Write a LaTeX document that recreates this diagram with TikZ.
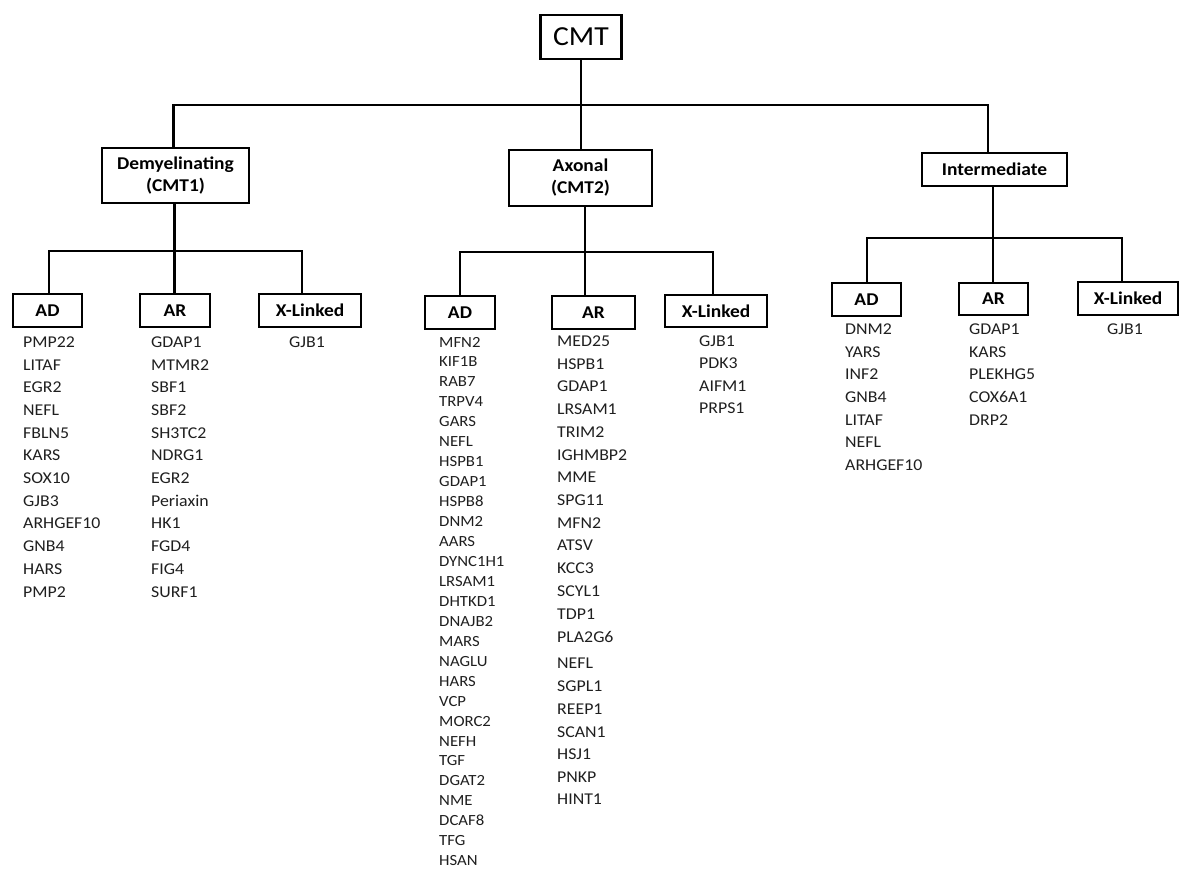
\documentclass[tikz,border=0pt]{standalone}
\usepackage{fontspec}
\setmainfont{Carlito}[FakeStretch=1.08]
\begin{document}
\begin{tikzpicture}[x=1pt,y=-1pt,
  ln/.style={line width=2.2pt},
  box/.style={draw, line width=2.2pt, inner sep=0pt, align=center,
    font=\fontsize{18}{22}\selectfont\bfseries},
  gene/.style={inner sep=0pt, anchor=base west, text=black!88,
    font=\fontsize{16.5}{20}\selectfont},
  sgene/.style={gene, font=\fontsize{15.5}{20}\selectfont}]
\useasboundingbox (0,0) rectangle (1181,870);

% root and the three main types
\node[draw, line width=2.2pt, inner sep=0pt, minimum width=81, minimum height=44,
  font=\fontsize{27.5}{30}\selectfont] (cmt) at (581,37) {CMT};
\node[box, minimum width=147, minimum height=55] (dem) at (175.5,175.5) {Demyelinating\\(CMT1)};
\node[box, minimum width=143, minimum height=56] (axo) at (580.5,178) {Axonal\\(CMT2)};
\node[box, minimum width=145, minimum height=33] (int) at (994.5,169.5) {Intermediate};

% inheritance boxes
\node[box, minimum width=69, minimum height=33] (dad) at (47.5,310.5) {AD};
\node[box, minimum width=70, minimum height=33] (dar) at (175,310.5) {AR};
\node[box, minimum width=102, minimum height=33] (dx) at (310,310.5) {X-Linked};
\node[box, minimum width=70, minimum height=33] (aad) at (460,312.5) {AD};
\node[box, minimum width=83, minimum height=33] (aar) at (593.5,312.5) {AR};
\node[box, minimum width=102, minimum height=32] (ax) at (716,311) {X-Linked};
\node[box, minimum width=69, minimum height=33] (iad) at (866.5,299.5) {AD};
\node[box, minimum width=69, minimum height=32] (iar) at (993.5,299) {AR};
\node[box, minimum width=100, minimum height=33] (ix) at (1128,298.5) {X-Linked};

% junctions
\coordinate (t0) at (581,105);
\coordinate (tL) at (173.5,105);
\coordinate (tR) at (988,105);
\coordinate (dj) at (174.5,251);
\coordinate (dL) at (49,251);
\coordinate (dR) at (302,251);
\coordinate (aj) at (585,252);
\coordinate (aL) at (460,252);
\coordinate (aR) at (713,252);
\coordinate (ij) at (993,238);
\coordinate (iL) at (867,238);
\coordinate (iR) at (1122,238);

% connectors
\draw[ln] (cmt.south) -- (t0);
\draw[ln] (dem.north -| tL) |- (tR) -- (int.north -| tR);
\draw[ln] (t0) -- (axo.north -| t0);

\draw[ln] (dem.south -| dj) -- (dar.north -| dj);
\draw[ln] (dad.north -| dL) |- (dR) -- (dx.north -| dR);

\draw[ln] (axo.south -| aj) -- (aar.north -| aj);
\draw[ln] (aad.north -| aL) |- (aR) -- (ax.north -| aR);

\draw[ln] (int.south -| ij) -- (iar.north -| ij);
\draw[ln] (iad.north -| iL) |- (iR) -- (ix.north -| iR);

% gene lists: demyelinating
\foreach \g [count=\i] in {PMP22,LITAF,EGR2,NEFL,FBLN5,KARS,SOX10,GJB3,ARHGEF10,GNB4,HARS,PMP2}
  \node[gene] (dad-\i) at (23,{347.3+(\i-1)*22.7}) {\g};
\foreach \g [count=\i] in {GDAP1,MTMR2,SBF1,SBF2,SH3TC2,NDRG1,EGR2,Periaxin,HK1,FGD4,FIG4,SURF1}
  \node[gene] (dar-\i) at (151,{347.3+(\i-1)*22.7}) {\g};
\node[gene, anchor=base] (dx-1) at (307,347.3) {GJB1};

% gene lists: axonal
\foreach \g [count=\i] in {MFN2,KIF1B,RAB7,TRPV4,GARS,NEFL,HSPB1,GDAP1,HSPB8,DNM2,AARS,DYNC1H1,LRSAM1,DHTKD1,DNAJB2,MARS,NAGLU,HARS,VCP,MORC2,NEFH,TGF,DGAT2,NME,DCAF8,TFG,HSAN}
  \node[sgene] (aad-\i) at (439,{347+(\i-1)*19.95}) {\g};
\foreach \g/\yy [count=\i] in {MED25/341,HSPB1/364,GDAP1/386.5,LRSAM1/409,TRIM2/432,IGHMBP2/455,MME/477.5,SPG11/500,MFN2/523,ATSV/545.5,KCC3/568,SCYL1/591,TDP1/614,PLA2G6/637,NEFL/663,SGPL1/686,REEP1/709,SCAN1/732,HSJ1/754,PNKP/777,HINT1/799}
  \node[gene] (aar-\i) at (557,{\yy+5.3}) {\g};
\foreach \g [count=\i] in {GJB1,PDK3,AIFM1,PRPS1}
  \node[gene] (ax-\i) at (699,{346.3+(\i-1)*22.4}) {\g};

% gene lists: intermediate
\foreach \g [count=\i] in {DNM2,YARS,INF2,GNB4,LITAF,NEFL,ARHGEF10}
  \node[gene] (iad-\i) at (845,{334.3+(\i-1)*22.7}) {\g};
\foreach \g [count=\i] in {GDAP1,KARS,PLEKHG5,COX6A1,DRP2}
  \node[gene] (iar-\i) at (969,{334.3+(\i-1)*22.7}) {\g};
\node[gene, anchor=base] (ix-1) at (1125,334.3) {GJB1};
\end{tikzpicture}
\end{document}
